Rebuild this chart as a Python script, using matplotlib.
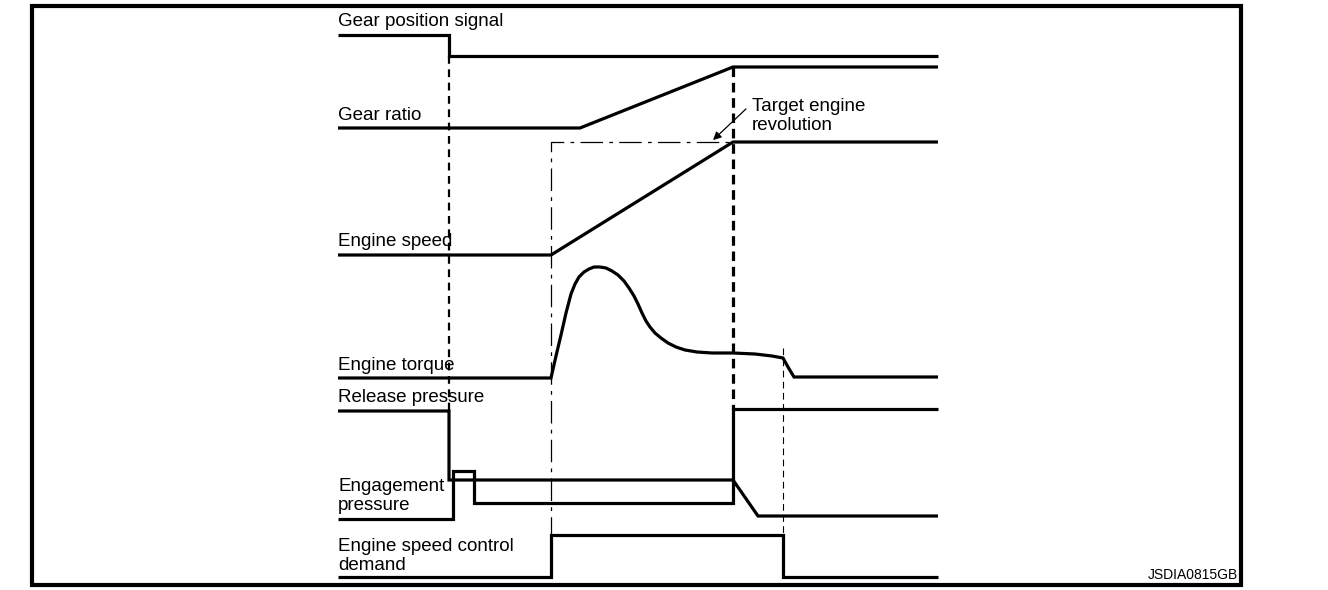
import matplotlib
matplotlib.use("Agg")
import matplotlib.pyplot as plt
from matplotlib.patches import Rectangle

plt.rcParams['font.family'] = ['Liberation Sans', 'DejaVu Sans']

# timing diagram, all in image pixel units (x = time, y = level, downward)
gear_pos_x = [338, 449, 449, 938]
gear_pos_y = [35, 35, 56, 56]

gear_ratio_x = [338, 580, 733, 938]
gear_ratio_y = [128, 128, 67, 67]

engine_speed_x = [338, 551, 733, 938]
engine_speed_y = [255, 255, 142, 142]

target_rev_x = [551, 551, 733]
target_rev_y = [578, 142, 142]

torque_x = [338, 551, 556, 561, 566, 571, 575, 579, 584, 589, 594, 600, 606, 612, 618,
            624, 629, 634, 638, 642, 646, 650, 655, 661, 668, 676, 685, 697, 712, 733,
            755, 772, 783, 788, 794, 938]
torque_y = [378, 378, 356, 335, 313, 294, 284, 277, 272, 269, 267, 267, 268, 271, 275,
            281, 288, 296, 304, 313, 321, 327, 333, 338, 343, 347, 350, 352, 353, 353,
            354, 356, 358, 367, 377, 377]

release_x = [338, 449, 449, 733, 758, 938]
release_y = [411, 411, 480, 480, 516, 516]

engage_x = [338, 453, 453, 474, 474, 733, 733, 938]
engage_y = [519, 519, 471, 471, 503, 503, 409, 409]

demand_x = [338, 551, 551, 783, 783, 938]
demand_y = [577, 577, 535, 535, 577, 577]

signal_labels = ["Gear position signal", "Gear ratio", "Engine speed", "Engine torque",
                 "Release pressure", "Engagement\npressure", "Engine speed control\ndemand"]
label_y = [21, 116, 241, 365, 398, 496, 556]

fig = plt.figure(figsize=(13.28, 5.9), dpi=100)
ax = fig.add_axes([0, 0, 1, 1])
ax.set_xlim(0, 1328)
ax.set_ylim(590, 0)
ax.axis('off')

ax.add_patch(Rectangle((31.5, 6), 1241 - 31.5, 585 - 6, fill=False, lw=3.0, ec='black'))

lw = 2.3
for xs, ys in [(gear_pos_x, gear_pos_y), (gear_ratio_x, gear_ratio_y),
               (engine_speed_x, engine_speed_y), (torque_x, torque_y),
               (release_x, release_y), (engage_x, engage_y), (demand_x, demand_y)]:
    ax.plot(xs, ys, color='black', lw=lw, solid_joinstyle='miter', solid_capstyle='butt')

# target engine revolution (dash-dot)
ax.plot(target_rev_x, target_rev_y, color='black', lw=0.9, dashes=[18, 5, 3, 5])

# timing guide lines
ax.plot([449, 449], [56, 411], color='black', lw=1.6, dashes=[3.5, 2.5])
ax.plot([733, 733], [67, 409], color='black', lw=2.3, dashes=[3, 1.8])
ax.plot([783, 783], [348, 548], color='black', lw=0.8, dashes=[6, 4])

for txt, y in zip(signal_labels, label_y):
    ax.text(338, y, txt, fontsize=13.5, va='center', ha='left', linespacing=1.2)

ax.annotate("", xy=(711, 142), xytext=(748, 107),
            arrowprops=dict(arrowstyle='-|>', color='black', lw=0.9, mutation_scale=12))
ax.text(752, 116, "Target engine\nrevolution", fontsize=13.5, va='center', ha='left',
        linespacing=1.2)

ax.text(1238, 575, "JSDIA0815GB", fontsize=10, va='center', ha='right')

fig.savefig("out.png", dpi=100)
